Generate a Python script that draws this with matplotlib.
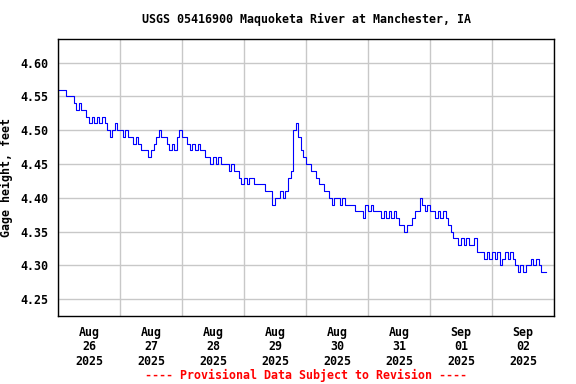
import matplotlib
matplotlib.use("Agg")
import matplotlib.pyplot as plt
import matplotlib.dates as mdates
from matplotlib.font_manager import FontProperties
import pandas as pd

# Gage height (feet), hourly readings starting 2025-08-26 00:00
gage_height = [
    4.56, 4.56, 4.56, 4.55, 4.55, 4.55, 4.54, 4.53, 4.54, 4.53,
    4.53, 4.52, 4.51, 4.52, 4.51, 4.52, 4.51, 4.52, 4.51, 4.50,
    4.49, 4.50, 4.51, 4.50, 4.50, 4.49, 4.50, 4.49, 4.49, 4.48,
    4.49, 4.48, 4.47, 4.47, 4.47, 4.46, 4.47, 4.48, 4.49, 4.50,
    4.49, 4.49, 4.48, 4.47, 4.48, 4.47, 4.49, 4.50, 4.49, 4.49,
    4.48, 4.47, 4.48, 4.47, 4.48, 4.47, 4.47, 4.46, 4.46, 4.45,
    4.46, 4.45, 4.46, 4.45, 4.45, 4.45, 4.44, 4.45, 4.44, 4.44,
    4.43, 4.42, 4.43, 4.42, 4.43, 4.43, 4.42, 4.42, 4.42, 4.42,
    4.41, 4.41, 4.41, 4.39, 4.40, 4.40, 4.41, 4.40, 4.41, 4.43,
    4.44, 4.50, 4.51, 4.49, 4.47, 4.46, 4.45, 4.45, 4.44, 4.44,
    4.43, 4.42, 4.42, 4.41, 4.41, 4.40, 4.39, 4.40, 4.40, 4.39,
    4.40, 4.39, 4.39, 4.39, 4.39, 4.38, 4.38, 4.38, 4.37, 4.39,
    4.38, 4.39, 4.38, 4.38, 4.38, 4.37, 4.38, 4.37, 4.38, 4.37,
    4.38, 4.37, 4.36, 4.36, 4.35, 4.36, 4.36, 4.37, 4.38, 4.38,
    4.40, 4.39, 4.38, 4.39, 4.38, 4.38, 4.37, 4.38, 4.37, 4.38,
    4.37, 4.36, 4.35, 4.34, 4.34, 4.33, 4.34, 4.33, 4.34, 4.33,
    4.33, 4.34, 4.32, 4.32, 4.32, 4.31, 4.32, 4.31, 4.32, 4.31,
    4.32, 4.30, 4.31, 4.32, 4.31, 4.32, 4.31, 4.30, 4.29, 4.30,
    4.29, 4.30, 4.30, 4.31, 4.30, 4.31, 4.30, 4.29, 4.29, 4.29,
]
start_time = "2025-08-26 00:00"
end_time = "2025-09-03 00:00"
y_ticks = [4.25, 4.30, 4.35, 4.40, 4.45, 4.50, 4.55, 4.60]
title = "USGS 05416900 Maquoketa River at Manchester, IA"
y_label = "Gage height, feet"
footer = "---- Provisional Data Subject to Revision ----"

times = pd.date_range(start_time, periods=len(gage_height), freq="h")

font = {"family": "DejaVu Sans Mono", "weight": "bold", "size": 8.4}

fig = plt.figure(figsize=(5.76, 3.84), dpi=100)
ax = fig.add_axes([58/576, 1-316/384, (554-58)/576, (316-39)/384])

ax.plot(times, gage_height, color="#0000ff", linewidth=0.8, drawstyle="steps-post")

ax.set_xlim(pd.Timestamp(start_time), pd.Timestamp(end_time))
ax.set_ylim(4.225, 4.635)
ax.set_yticks(y_ticks)
ax.set_yticklabels([f"{v:.2f}" for v in y_ticks], fontdict=font)

ax.xaxis.set_major_locator(mdates.DayLocator())
ax.xaxis.set_major_formatter(plt.NullFormatter())
ax.xaxis.set_minor_locator(mdates.HourLocator(byhour=[12]))
ax.xaxis.set_minor_formatter(mdates.DateFormatter("%b\n%d\n%Y"))
for lbl in ax.xaxis.get_minorticklabels():
    lbl.set_fontproperties(FontProperties(family="DejaVu Sans Mono", weight="bold", size=8.4))
    lbl.set_linespacing(1.15)

ax.tick_params(axis="both", which="both", length=0)
ax.tick_params(axis="y", pad=7)
ax.tick_params(axis="x", which="minor", pad=7)
ax.grid(True, which="major", color="#c8c8c8", linewidth=1.0)
ax.set_axisbelow(True)
for s in ax.spines.values():
    s.set_color("black")
    s.set_linewidth(1.0)

ax.set_ylabel(y_label, fontdict=font)
ax.yaxis.set_label_coords((13 - 58) / 496, 0.5)
fig.text(306/576, 1-19/384, title, ha="center", va="center", **font)
fig.text(306/576, 1-375/384, footer, ha="center", va="center", color="red", **font)

fig.savefig("out.png", dpi=100)
